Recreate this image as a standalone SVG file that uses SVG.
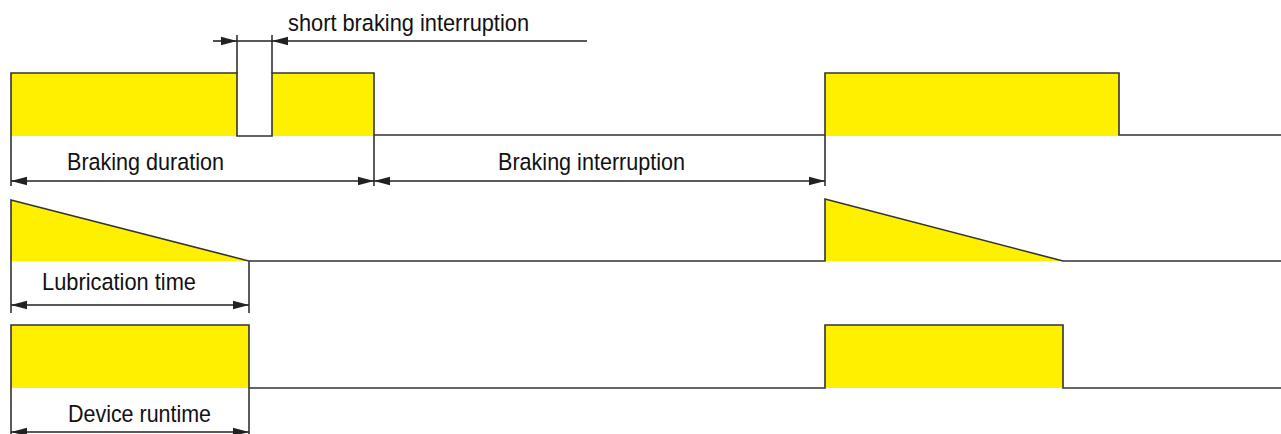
<svg xmlns="http://www.w3.org/2000/svg" width="1281" height="434" viewBox="0 0 1281 434">
<style>
.fill{fill:#FFF000;stroke:none}
.sig{fill:none;stroke:#333;stroke-width:1.6}
.dim{fill:none;stroke:#222;stroke-width:1.6}
.lbl{font-family:"Liberation Sans",Arial,sans-serif;font-size:24.5px;fill:#111}
</style>
<defs>
<marker id="ah" markerUnits="userSpaceOnUse" markerWidth="18" markerHeight="10" refX="16" refY="5" orient="auto-start-reverse">
<path d="M0,0.8 L16,5 L0,9.2 z" fill="#222"/>
</marker>
</defs>
<rect width="1281" height="434" fill="#fff"/>
<g id="braking-signal">
<rect class="fill" x="11" y="73" width="226" height="63"/>
<rect class="fill" x="272" y="73" width="102" height="63"/>
<rect class="fill" x="825" y="73" width="294" height="63"/>
<path class="sig" d="M11,186 V73 H237 V136 H272 V73 H374 V186 M374,135 H825 M825,186 V73 H1119 V135 H1281"/>
<path class="sig" d="M237,73 V35 M272,73 V35"/>
</g>
<g id="lubrication-signal">
<polygon class="fill" points="11,200 249,261 11,261"/>
<polygon class="fill" points="825,199 1063,261 825,261"/>
<path class="sig" d="M11,313 V200 L249,261 V313 M249,261 H825 V199 L1063,261 H1281"/>
</g>
<g id="device-signal">
<rect class="fill" x="11" y="325" width="238" height="63"/>
<rect class="fill" x="825" y="325" width="238" height="63"/>
<path class="sig" d="M11,434 V325 H249 V434 M249,388 H825 V325 H1063 V388 H1281"/>
</g>
<g id="connectors">
<line class="dim" x1="213" y1="41" x2="237" y2="41" marker-end="url(#ah)"/>
<line class="dim" x1="587" y1="41" x2="272" y2="41" marker-end="url(#ah)"/>
<line class="dim" x1="237" y1="41" x2="272" y2="41"/>
<line class="dim" x1="11" y1="181" x2="374" y2="181" marker-start="url(#ah)" marker-end="url(#ah)"/>
<line class="dim" x1="374" y1="181" x2="825" y2="181" marker-start="url(#ah)" marker-end="url(#ah)"/>
<line class="dim" x1="11" y1="305" x2="249" y2="305" marker-start="url(#ah)" marker-end="url(#ah)"/>
<line class="dim" x1="11" y1="432" x2="249" y2="432" marker-start="url(#ah)" marker-end="url(#ah)"/>
</g>
<g id="labels">
<text class="lbl" x="288" y="31" textLength="241" lengthAdjust="spacingAndGlyphs">short braking interruption</text>
<text class="lbl" x="67" y="170" textLength="157" lengthAdjust="spacingAndGlyphs">Braking duration</text>
<text class="lbl" x="498" y="170" textLength="187" lengthAdjust="spacingAndGlyphs">Braking interruption</text>
<text class="lbl" x="42" y="290" textLength="154" lengthAdjust="spacingAndGlyphs">Lubrication time</text>
<text class="lbl" x="68" y="422" textLength="143" lengthAdjust="spacingAndGlyphs">Device runtime</text>
</g>
</svg>
